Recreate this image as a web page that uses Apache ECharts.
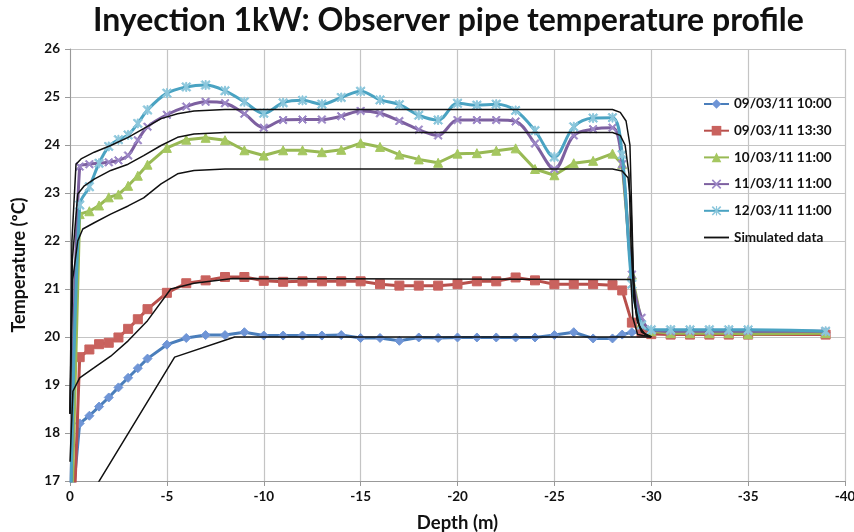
<!DOCTYPE html>
<html>
<head>
<meta charset="utf-8">
<script src="https://cdn.jsdelivr.net/npm/echarts@6/dist/echarts.min.js"></script>
<style>
  html, body { margin: 0; padding: 0; background: #ffffff; }
  #chart { width: 854px; height: 532px; }
</style>
</head>
<body>
<div id="chart"></div>
<script>
// ---- Measured data (shared depth grid, m) ----
const depth = [0, -0.5, -1, -1.5, -2, -2.5, -3, -3.5, -4, -5, -6, -7, -8, -9, -10, -11, -12, -13, -14, -15, -16, -17, -18, -19, -20, -21, -22, -23, -24, -25, -26, -27, -28, -28.5, -29, -29.5, -30, -31, -32, -33, -34, -35, -39];

const t0903_1000 = [16.0, 18.2, 18.36, 18.55, 18.74, 18.95, 19.15, 19.35, 19.55, 19.84, 19.98, 20.04, 20.04, 20.1, 20.03, 20.03, 20.03, 20.03, 20.04, 19.98, 19.98, 19.92, 19.99, 19.98, 19.99, 19.99, 19.99, 19.99, 19.99, 20.04, 20.1, 19.97, 19.97, 20.05, 20.1, 20.1, 20.1, 20.1, 20.1, 20.1, 20.1, 20.1, 20.1];
const t0903_1330 = [14.0, 19.58, 19.74, 19.85, 19.88, 19.99, 20.17, 20.37, 20.58, 20.92, 21.12, 21.18, 21.25, 21.25, 21.17, 21.15, 21.16, 21.16, 21.16, 21.16, 21.1, 21.07, 21.07, 21.07, 21.1, 21.16, 21.16, 21.24, 21.18, 21.1, 21.1, 21.1, 21.08, 20.97, 20.3, 20.09, 20.06, 20.05, 20.05, 20.05, 20.05, 20.05, 20.05];
const t1003_1100 = [15.0, 22.56, 22.62, 22.74, 22.91, 22.97, 23.15, 23.36, 23.59, 23.94, 24.11, 24.15, 24.1, 23.89, 23.78, 23.89, 23.89, 23.85, 23.9, 24.04, 23.96, 23.8, 23.7, 23.63, 23.82, 23.83, 23.88, 23.93, 23.5, 23.37, 23.62, 23.67, 23.82, 23.6, 21.3, 20.3, 20.12, 20.08, 20.08, 20.08, 20.08, 20.06, 20.08];
const t1103_1100 = [15.0, 23.55, 23.6, 23.62, 23.64, 23.68, 23.78, 24.1, 24.38, 24.63, 24.8, 24.9, 24.87, 24.65, 24.36, 24.52, 24.53, 24.53, 24.6, 24.71, 24.66, 24.5, 24.32, 24.2, 24.52, 24.52, 24.52, 24.49, 24.03, 23.5, 24.2, 24.33, 24.36, 23.6, 21.3, 20.4, 20.15, 20.12, 20.12, 20.12, 20.12, 20.12, 20.12];
const t1203_1100 = [15.5, 22.75, 23.13, 23.62, 23.97, 24.11, 24.21, 24.45, 24.73, 25.08, 25.21, 25.25, 25.13, 24.9, 24.66, 24.88, 24.93, 24.85, 24.99, 25.12, 24.94, 24.84, 24.62, 24.52, 24.87, 24.83, 24.85, 24.72, 24.3, 23.75, 24.38, 24.56, 24.57, 23.8, 21.1, 20.25, 20.15, 20.15, 20.15, 20.15, 20.15, 20.15, 20.12];

// ---- Simulated data ----
const simDepth1 = [0, -5.4, -8.5, -30];
const simTemp1  = [16.0, 19.58, 20.0, 20.0];
const simDepth2 = [0, -0.15, -0.5, -1.25, -2.1, -3.0, -4.0, -5.2, -6.4, -8.4, -28.95, -29.05, -29.3, -30];
const simTemp2  = [17.4, 18.87, 19.15, 19.36, 19.6, 19.92, 20.34, 21.0, 21.12, 21.22, 21.2, 20.4, 20.05, 20.0];
const simDepth3 = [0, -0.14, -0.4, -0.66, -1.25, -2.1, -3.0, -3.8, -4.7, -5.55, -6.4, -8.0, -28.0, -28.5, -28.8, -28.95, -29.05, -29.2, -29.4, -29.7, -30];
const simTemp3  = [18.4, 21.2, 22.0, 22.25, 22.38, 22.56, 22.73, 22.9, 23.19, 23.4, 23.47, 23.5, 23.5, 23.46, 23.32, 22.8, 21.5, 20.6, 20.2, 20.05, 20.0];
const simDepth4 = [0, -0.12, -0.4, -0.74, -1.25, -2.1, -3.0, -3.8, -4.7, -5.55, -6.4, -8.0, -28.0, -28.4, -28.65, -28.85, -28.95, -29.1, -29.3, -29.6, -30];
const simTemp4  = [18.4, 21.6, 22.98, 23.15, 23.29, 23.47, 23.6, 23.78, 23.99, 24.16, 24.23, 24.26, 24.26, 24.2, 24.0, 23.4, 22.0, 20.8, 20.3, 20.08, 20.0];
const simDepth5 = [0, -0.1, -0.31, -0.57, -1.25, -2.1, -3.0, -3.8, -4.7, -5.55, -6.4, -8.0, -28.0, -28.4, -28.7, -28.9, -29.0, -29.1, -29.25, -29.5, -30];
const simTemp5  = [18.4, 22.0, 23.6, 23.71, 23.85, 23.99, 24.16, 24.34, 24.55, 24.65, 24.71, 24.74, 24.74, 24.68, 24.5, 24.0, 22.5, 21.0, 20.4, 20.1, 20.0];

const seriesNames = ['09/03/11 10:00', '09/03/11 13:30', '10/03/11 11:00', '11/03/11 11:00', '12/03/11 11:00'];
const simName = 'Simulated data';

const FONT = 'Lato, "Open Sans", sans-serif';
const xSym = 'path://M0,1.2 L1.2,0 L10,8.8 L8.8,10 Z M8.8,0 L10,1.2 L1.2,10 L0,8.8 Z';
const starSym = 'path://M0,1.2 L1.2,0 L10,8.8 L8.8,10 Z M8.8,0 L10,1.2 L1.2,10 L0,8.8 Z M4.4,0 L5.6,0 L5.6,10 L4.4,10 Z';
const lineIcon = 'path://M0,0 L30,0 L30,2.2 L0,2.2 Z';

function pairs(xs, ys) { return xs.map((x, i) => [x, ys[i]]); }

const measured = [
  { data: t0903_1000, line: '#4a7ebb', fill: '#6f95d6', symbol: 'diamond', size: 9, smooth: false },
  { data: t0903_1330, line: '#b84f4b', fill: '#c9625e', symbol: 'rect', size: 9, smooth: false },
  { data: t1003_1100, line: '#98b954', fill: '#a5c760', symbol: 'triangle', size: 9, smooth: false },
  { data: t1103_1100, line: '#7d60a0', fill: '#9b86c6', symbol: xSym, size: 8, smooth: 0.35 },
  { data: t1203_1100, line: '#4aa3c2', fill: '#8cc7dc', symbol: starSym, size: 9, smooth: 0.35 }
];

const series = measured.map((m, i) => ({
  name: seriesNames[i],
  type: 'line',
  data: pairs(depth, m.data),
  smooth: m.smooth,
  symbol: m.symbol,
  symbolSize: m.size,
  showAllSymbol: true,
  lineStyle: { color: m.line, width: 3 },
  itemStyle: { color: m.fill, borderColor: m.fill },
  color: m.line,
  z: 2 + i,
  animation: false
}));

[[simDepth1, simTemp1], [simDepth2, simTemp2], [simDepth3, simTemp3], [simDepth4, simTemp4], [simDepth5, simTemp5]].forEach(([xs, ys]) => {
  series.push({
    name: simName,
    type: 'line',
    data: pairs(xs, ys),
    symbol: 'none',
    lineStyle: { color: '#111111', width: 1.5 },
    itemStyle: { color: '#111111' },
    color: '#111111',
    z: 10,
    animation: false
  });
});

const chart = echarts.init(document.getElementById('chart'), null, { renderer: 'canvas' });
chart.setOption({
  backgroundColor: '#ffffff',
  animation: false,
  title: {
    text: 'Inyection 1kW: Observer pipe temperature profile',
    left: 88,
    top: 0,
    textStyle: { fontFamily: FONT, fontWeight: 'bold', fontSize: 32, color: '#111111' }
  },
  legend: {
    orient: 'vertical',
    left: 698,
    top: 92,
    itemWidth: 25,
    itemHeight: 12,
    itemGap: 12.7,
    data: [...seriesNames, { name: simName, icon: lineIcon }],
    textStyle: { fontFamily: FONT, fontWeight: 'bold', fontSize: 13.5, color: '#111111' }
  },
  grid: { left: 70, right: 9, top: 49, bottom: 51, outerBoundsMode: 'none', containLabel: false },
  xAxis: {
    type: 'value',
    min: -40, max: 0, interval: 5,
    inverse: true,
    name: 'Depth (m)',
    nameLocation: 'middle',
    nameGap: 33,
    nameTextStyle: { fontFamily: FONT, fontWeight: 'bold', fontSize: 18.5, color: '#111111' },
    axisLine: { show: true, onZero: false, lineStyle: { color: '#999999' } },
    axisTick: { show: true, length: 5, lineStyle: { color: '#999999' } },
    axisLabel: { fontFamily: FONT, fontWeight: 'bold', fontSize: 13.5, color: '#111111', margin: 9 },
    splitLine: { show: true, lineStyle: { color: '#c4c4c4', width: 1.2 } }
  },
  yAxis: {
    type: 'value',
    min: 17, max: 26, interval: 1,
    name: 'Temperature (ºC)',
    nameLocation: 'middle',
    nameGap: 42,
    nameTextStyle: { fontFamily: FONT, fontWeight: 'bold', fontSize: 18, color: '#111111' },
    axisLine: { show: true, lineStyle: { color: '#999999' } },
    axisTick: { show: true, length: 5, lineStyle: { color: '#999999' } },
    axisLabel: { fontFamily: FONT, fontWeight: 'bold', fontSize: 13.5, color: '#111111', margin: 10 },
    splitLine: { show: true, lineStyle: { color: '#c4c4c4', width: 1.2 } }
  },
  series: series
});
</script>
</body>
</html>
